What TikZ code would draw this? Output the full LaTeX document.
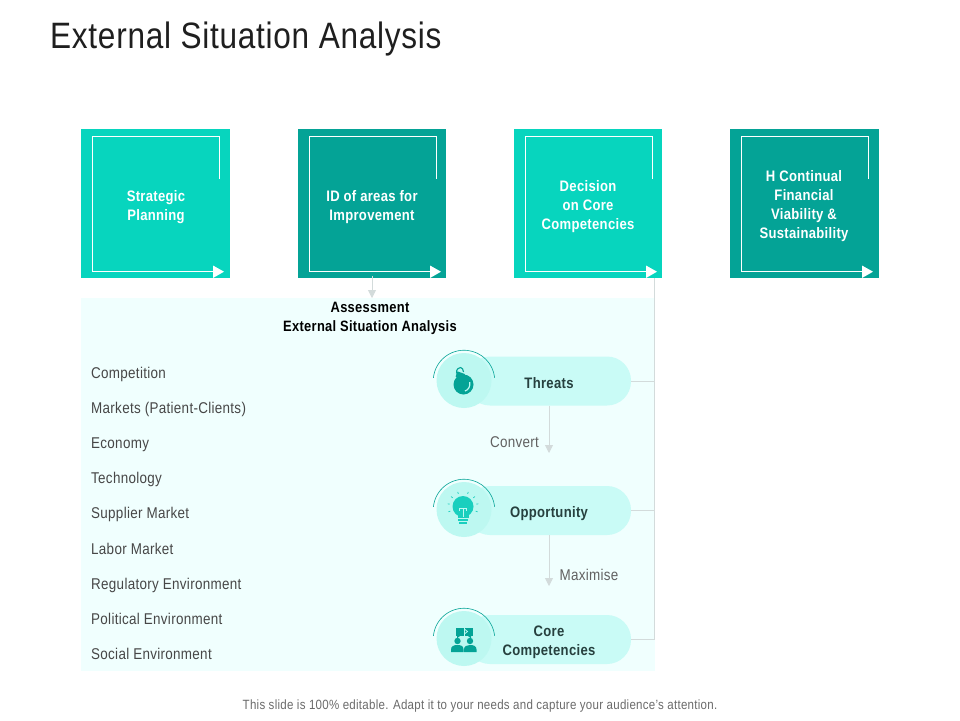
\documentclass[tikz,border=0pt]{standalone}
\usepackage{fontspec}
\setmainfont{Liberation Sans}[FakeStretch=0.86,LetterSpace=2]
\usetikzlibrary{arrows.meta,calc}
\definecolor{tealA}{HTML}{07D5BE}
\definecolor{tealB}{HTML}{04A396}
\definecolor{panelC}{HTML}{F0FFFE}
\definecolor{pillC}{HTML}{C9FBF6}
\definecolor{discC}{HTML}{BDF8F1}
\definecolor{lineC}{HTML}{D3DBDB}
\definecolor{bulbC}{HTML}{19CFBE}
\definecolor{darkT}{HTML}{26403E}
\tikzset{
 x=1pt,y=-1pt,
 sq/.style={minimum width=149pt,minimum height=149pt,inner sep=0pt,outer sep=0pt,anchor=north west},
 sqtext/.style={text=white,font=\fontsize{15.2}{19}\selectfont\bfseries,align=center,inner sep=0pt},
 inner line/.style={draw=white,line width=0.8pt},
 tri/.style={fill=white,draw=none},
 conn/.style={draw=lineC,line width=0.8pt},
 arrowconn/.style={conn,-{Triangle[length=8pt,width=8pt,fill=lineC]}},
 pill/.style={fill=pillC,rounded corners=24pt,minimum height=49pt,inner sep=0pt,outer sep=0pt},
 pilltext/.style={text=darkT,font=\fontsize{15.2}{19}\selectfont\bfseries,align=center,inner sep=0pt},
 disc/.style={circle,fill=discC,minimum size=55pt,inner sep=0pt,outer sep=0pt},
 item/.style={anchor=base west,text=black!72,font=\fontsize{15.6}{15}\selectfont,inner sep=0pt},
 lab/.style={anchor=base,text=black!62,font=\fontsize{15.6}{15}\selectfont,inner sep=0pt},
 arcline/.style={draw=tealB,line width=0.6pt},
}
\newcommand{\boxdeco}[1]{%
 \draw[inner line] ($(#1.north west)+(138.7,50)$) -- ($(#1.north west)+(138.7,7.5)$) -- ($(#1.north west)+(11.3,7.5)$) -- ($(#1.north west)+(11.3,142.7)$) -- ($(#1.north west)+(132,142.7)$);
 \fill[tri] ($(#1.north west)+(132,136.5)$) -- ($(#1.north west)+(143,142.7)$) -- ($(#1.north west)+(132,149)$) -- cycle;
}
\begin{document}
\begin{tikzpicture}
\useasboundingbox (0,0) rectangle (960,720);
\fill[white] (0,0) rectangle (960,720);
\node[anchor=base west,inner sep=0pt,text=black!88,font=\fontsize{36.7}{36}\selectfont] (title) at (50,48) {External Situation Analysis};
% panel
\node[fill=panelC,anchor=north west,minimum width=574pt,minimum height=373pt,inner sep=0pt,outer sep=0pt] (panel) at (81,298) {};
% boxes
\node[sq,fill=tealA] (b1) at (81,129) {};
\node[sq,fill=tealB,minimum width=148pt] (b2) at (298,129) {};
\node[sq,fill=tealA,minimum width=148pt] (b3) at (514,129) {};
\node[sq,fill=tealB] (b4) at (730,129) {};
\boxdeco{b1}\boxdeco{b2}\boxdeco{b3}\boxdeco{b4}
\node[sqtext] (t1) at (156,207.5) {Strategic\\Planning};
\node[sqtext] (t2) at (372,207.5) {ID of areas for\\Improvement};
\node[sqtext] (t3) at (588,207) {Decision\\on Core\\Competencies};
\node[sqtext] (t4) at (804,206.5) {H Continual\\Financial\\Viability \&\\Sustainability};
% heading
\node[text=black,font=\fontsize{15}{19}\selectfont\bfseries,align=center,inner sep=0pt] (head) at (370,318.5) {Assessment\\External Situation Analysis};
% list
\node[item] (l1) at (91,378.5) {Competition};
\node[item] (l2) at (91,413.5) {Markets (Patient-Clients)};
\node[item] (l3) at (91,448.5) {Economy};
\node[item] (l4) at (91,483.5) {Technology};
\node[item] (l5) at (91,518.5) {Supplier Market};
\node[item] (l6) at (91,554) {Labor Market};
\node[item] (l7) at (91,589) {Regulatory Environment};
\node[item] (l8) at (91,624) {Political Environment};
\node[item] (l9) at (91,659) {Social Environment};
% pills
\node[pill,minimum width=165pt] (p1) at (548.5,381) {};
\node[pill,minimum width=165pt] (p2) at (548.5,510.5) {};
\node[pill,minimum width=165pt] (p3) at (548.5,639.5) {};
\node[pilltext] (pt1) at (549,383) {Threats};
\node[pilltext] (pt2) at (549,513.5) {Opportunity};
\node[pilltext] (pt3) at (549,642) {Core\\Competencies};
% right connector
\coordinate (top) at (654.8,278);
\coordinate (c3) at (654.8,639.5);
\coordinate (c1) at (654.8,381);
\coordinate (c2) at (654.8,510.5);
\draw[conn] (top) -- (c3) -- (p3.east);
\draw[conn] (p1.east) -- (c1);
\draw[conn] (p2.east) -- (c2);
% down arrows
\coordinate (a0) at (372,276);
\coordinate (a0e) at (372,298);
\draw[arrowconn] (a0) -- (a0e);
\coordinate (a1) at (549,405.5);
\coordinate (a1e) at (549,453);
\draw[arrowconn] (a1) -- (a1e);
\coordinate (a2) at (549,535);
\coordinate (a2e) at (549,586);
\draw[arrowconn] (a2) -- (a2e);
\node[lab] (conv) at (514.5,447) {Convert};
\node[lab] (maxi) at (589,580) {Maximise};
% discs
\foreach \n/\y in {d1/380.5,d2/509.5,d3/638.5}{
 \node[disc] (\n) at (464,\y) {};
 \draw[arcline] (433.4,\y-2.7) arc[start angle=186,end angle=354,radius=30.8];
}
% bomb
\fill[tealB] (463.5,384.5) circle[radius=10];
\fill[tealB,rotate around={-20:(460,376)}] (456,372.5) rectangle (464,378);
\draw[tealB,line width=1.1pt] (456.5,373.5) .. controls (456,369) and (459,367.5) .. (460.5,367.5) .. controls (462,367.5) and (463.5,369.5) .. (463.5,372);
\draw[discC,line width=1.2pt] (469.8,382) .. controls (470.5,386) and (468.5,390) .. (465,391);
% bulb
\fill[bulbC] (463,506.5) circle[radius=10.5];
\fill[bulbC] (457.5,512) rectangle (468.5,518);
\fill[bulbC] (458,519) rectangle (468,521);
\fill[bulbC] (459,522) rectangle (467,524);
\draw[discC,line width=0.9pt] (463,517) -- (463,508) (459,508) -- (467,508) (459.5,508) -- (459.5,510.5) (466.5,508) -- (466.5,510.5);
\foreach \a in {-20,10,40,70,110,140,170,200}{
 \draw[bulbC,line width=0.7pt] ($(463,506.5)+({13.5*cos(\a)},{-13.5*sin(\a)})$) -- ($(463,506.5)+({15.5*cos(\a)},{-15.5*sin(\a)})$);
}
% people
\fill[tealB] (455.5,627.5) rectangle (463.5,635.5);
\fill[tealB] (464.5,627.5) rectangle (472.5,635.5);
\fill[tealB] (457,635) -- (461,635) -- (457,638.5) -- cycle;
\fill[tealB] (467,635) -- (471,635) -- (471,638.5) -- cycle;
\draw[discC,line width=0.8pt] (465,629.5) -- (467.5,631.5) -- (465,633.5);
\fill[tealB] (457.5,641) circle[radius=3.2];
\fill[tealB] (470,641) circle[radius=3.2];
\fill[tealB] (451,652) -- (451,649.5) .. controls (451,646) and (454,645) .. (457.5,645) .. controls (461,645) and (463.5,646) .. (463.5,649.5) -- (463.5,652) -- cycle;
\fill[tealB] (464,652) -- (464,649.5) .. controls (464,646) and (467,645) .. (470,645) .. controls (473.5,645) and (476.5,646) .. (476.5,649.5) -- (476.5,652) -- cycle;
% footer
\node[anchor=base,text=black!58,font=\fontsize{13.4}{13}\selectfont,inner sep=0pt] (foot) at (480,709.5) {This slide is 100\% editable. Adapt it to your needs and capture your audience's attention.};
\end{tikzpicture}
\end{document}
